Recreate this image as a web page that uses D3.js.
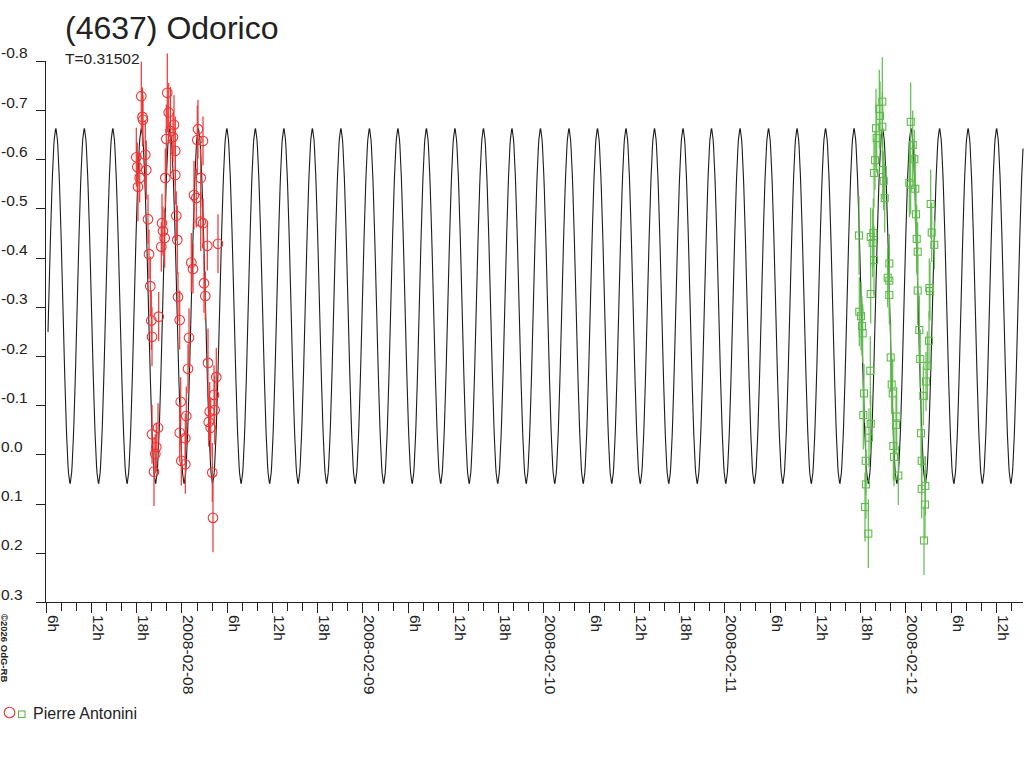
<!DOCTYPE html>
<html><head><meta charset="utf-8">
<script src="https://cdn.jsdelivr.net/npm/d3@7"></script>
<style>
html,body{margin:0;padding:0;background:#fff;}
text{font-family:"Liberation Sans",Arial,sans-serif;fill:#222;}
</style></head>
<body><svg id="c" width="1024" height="768"></svg>
<script>
// ---- data (days are decimal days of February 2008, UTC) ----
const title = "(4637) Odorico";
const periodLabel = "T=0.31502";
const PERIOD = 0.31502;
const EPOCH = 7.3058;          // time of a light-curve maximum
const curveStartDay = 7.2627;
const xDomainDays = [7.24613, 12.6494];
const yTicks = [-0.8,-0.7,-0.6,-0.5,-0.4,-0.3,-0.2,-0.1,0.0,0.1,0.2,0.3];
const yTickLabels = ["-0.8","-0.7","-0.6","-0.5","-0.4","-0.3","-0.2","-0.1","0.0","0.1","0.2","0.3"];
const observer = "Pierre Antonini";
const copyright = "\u00A92026 OdG-RB";

// model light curve profile over one period (phase -> magnitude)
const profilePhase = d3.range(33).map(i => i/32);
const profileMag = [-0.665,-0.637,-0.558,-0.441,-0.302,-0.162,-0.045,0.034,0.062,0.034,-0.045,-0.162,-0.302,-0.441,-0.558,-0.637,
                    -0.665,-0.637,-0.558,-0.441,-0.302,-0.162,-0.045,0.034,0.062,0.034,-0.045,-0.162,-0.302,-0.441,-0.558,-0.637,-0.665];

const redDay = [7.7782,7.7876,7.7848,7.7506,7.7561,7.8003,7.8058,7.7693,7.7599,7.8152,7.8207,7.8279,7.8334,7.8743,7.8373,7.8705,7.8373,7.8610,7.8555,7.8483,
 7.9218,7.9296,7.9588,7.9163,7.9533,7.9660,7.9395,7.9108,7.9660,7.9715,7.8925,7.8981,7.9074,7.8887,7.9771,7.9809,7.9903,8.0417,8.0362,7.9959,8.0268,7.9903,8.0213,7.9992,8.0213,
 8.0914,8.1191,8.0876,8.1064,8.0693,8.0820,8.1191,8.1064,8.1428,8.0544,8.0638,8.1246,8.1318,8.2019,8.1467,8.1925,8.1799,8.1837,8.1561,8.1506,8.1616,8.1704,8.1743];
const redMag = [-0.728,-0.680,-0.686,-0.604,-0.584,-0.609,-0.578,-0.562,-0.544,-0.478,-0.407,-0.342,-0.272,-0.280,-0.239,-0.054,-0.041,-0.015,-0.001,0.035,
 -0.735,-0.695,-0.670,-0.641,-0.645,-0.617,-0.657,-0.562,-0.568,-0.485,-0.470,-0.454,-0.440,-0.422,-0.436,-0.320,-0.273,-0.237,-0.174,-0.107,-0.078,-0.044,-0.033,0.013,0.020,
 -0.661,-0.637,-0.639,-0.562,-0.527,-0.521,-0.470,-0.473,-0.424,-0.390,-0.377,-0.348,-0.322,-0.428,-0.186,-0.157,-0.121,-0.090,-0.087,-0.066,-0.054,0.037,0.129];
const redErr = [0.07,0.05,0.06,0.06,0.05,0.07,0.06,0.05,0.07,0.05,0.05,0.06,0.06,0.05,0.06,0.05,0.06,0.05,0.04,0.07,
 0.08,0.06,0.06,0.07,0.05,0.07,0.09,0.06,0.06,0.05,0.06,0.05,0.06,0.05,0.07,0.05,0.06,0.06,0.05,0.05,0.06,0.06,0.05,0.05,0.06,
 0.06,0.05,0.07,0.06,0.07,0.06,0.05,0.06,0.05,0.06,0.05,0.06,0.05,0.06,0.07,0.06,0.06,0.07,0.06,0.05,0.06,0.06,0.07];

const greenDay = [11.8721,11.8555,11.8594,11.8721,11.8373,11.8412,11.8318,11.8262,11.8743,11.8798,11.8854,
 12.0290,12.0401,12.0489,12.0213,12.0290,12.0544,12.0583,12.1395,
 11.7434,11.8224,11.8080,11.8191,12.1450,12.1594,12.0622,12.0677,11.8262,11.9108,11.9019,11.9108,11.8080,11.9108,12.0677,12.1318,12.1356,
 11.7450,11.7544,11.7599,11.7638,11.8058,11.7710,11.7671,11.8080,11.7986,11.7804,11.7820,11.7765,11.7948,
 11.9185,11.9240,11.9296,11.9517,11.9478,11.9329,11.9367,11.9605,
 12.0765,12.1301,12.0815,12.1207,12.1135,12.0986,12.0859,12.0898,12.0898,12.1097,12.1080,12.1025];
const greenMag = [-0.717,-0.702,-0.688,-0.666,-0.663,-0.643,-0.598,-0.572,-0.578,-0.556,-0.521,
 -0.676,-0.629,-0.600,-0.552,-0.548,-0.540,-0.488,-0.509,
 -0.445,-0.450,-0.442,-0.430,-0.451,-0.426,-0.438,-0.412,-0.395,-0.388,-0.359,-0.353,-0.326,-0.324,-0.333,-0.338,-0.332,
 -0.290,-0.281,-0.261,-0.246,-0.170,-0.124,-0.080,-0.062,-0.034,0.013,0.061,0.107,0.161,
 -0.197,-0.142,-0.124,-0.077,-0.060,-0.017,0.005,0.043,
 -0.253,-0.231,-0.194,-0.180,-0.148,-0.119,-0.043,0.013,0.070,0.064,0.102,0.175];
const greenErr = [0.09,0.08,0.07,0.07,0.08,0.07,0.06,0.07,0.06,0.06,0.07,
 0.08,0.07,0.06,0.07,0.06,0.07,0.06,0.07,
 0.08,0.07,0.06,0.07,0.06,0.05,0.07,0.06,0.07,0.06,0.06,0.07,0.06,0.06,0.07,0.06,0.06,
 0.07,0.07,0.06,0.06,0.07,0.06,0.07,0.06,0.06,0.07,0.07,0.07,0.07,
 0.07,0.06,0.07,0.06,0.06,0.07,0.06,0.06,
 0.07,0.06,0.06,0.07,0.06,0.06,0.07,0.07,0.06,0.06,0.07,0.07];

// ---- drawing ----
const BASE = Date.UTC(2008,1,0);
const toDate = d => new Date(BASE + d*86400000);
const svg = d3.select("#c");
svg.append("rect").attr("width",1024).attr("height",768).attr("fill","#fff");

const x = d3.scaleUtc().domain(xDomainDays.map(toDate)).range([45,1023]);
const y = d3.scaleLinear().domain([-0.8,0.3]).range([60.8,602]);
const profile = d3.scaleLinear().domain(profilePhase).range(profileMag);

const RED = "#ef3434", GREEN = "#5fbc4c", INK = "#222";

// model curve
const curveDays = d3.range(curveStartDay, xDomainDays[1], PERIOD/128).concat([xDomainDays[1]]);
const curvePts = curveDays.map(d => {
  let ph = ((d - EPOCH)/PERIOD) % 1; if (ph < 0) ph += 1;
  return [d, profile(ph)];
});
svg.append("path")
  .attr("d", d3.line().x(p => x(toDate(p[0]))).y(p => y(p[1]))(curvePts))
  .attr("fill","none").attr("stroke","#1c1c1c").attr("stroke-width",1.1);

// axes
const axG = svg.append("g").attr("shape-rendering","crispEdges");
axG.append("line").attr("x1",45.5).attr("x2",45.5).attr("y1",y(-0.8)).attr("y2",602).attr("stroke",INK);
axG.append("line").attr("x1",36).attr("x2",1023).attr("y1",602.5).attr("y2",602.5).attr("stroke",INK);
yTicks.forEach((v,i) => {
  axG.append("line").attr("x1",36).attr("x2",45).attr("y1",Math.round(y(v))+0.5).attr("y2",Math.round(y(v))+0.5).attr("stroke",INK);
  svg.append("text").attr("x",1).attr("y",y(v)-2.5).attr("font-size","15.5px").text(yTickLabels[i]);
});
const ticks = d3.utcHour.every(2).range(x.domain()[0], x.domain()[1]);
const dateFmt = d3.utcFormat("%Y-%m-%d");
ticks.forEach(t => {
  const h = t.getUTCHours();
  const major = h % 6 === 0;
  const xx = Math.round(x(t)) + 0.5;
  axG.append("line").attr("x1",xx).attr("x2",xx).attr("y1",602).attr("y2",major ? 613 : 611).attr("stroke",INK);
  if (major) {
    const lab = h === 0 ? dateFmt(t) : h + "h";
    svg.append("text").attr("transform",`translate(${xx+1.8},615) rotate(90)`)
      .attr("font-size","15.5px").text(lab);
  }
});

// error bars & markers
function series(days, mags, errs, color, shape) {
  const g = svg.append("g");
  days.forEach((d,i) => {
    const xx = x(toDate(d));
    g.append("line").attr("x1",xx).attr("x2",xx)
      .attr("y1",y(mags[i]-errs[i])).attr("y2",y(mags[i]+errs[i]))
      .attr("stroke",color).attr("stroke-width",1.2);
  });
  days.forEach((d,i) => {
    const xx = x(toDate(d)), yy = y(mags[i]);
    if (shape === "circle") {
      g.append("circle").attr("cx",xx).attr("cy",yy).attr("r",4.8)
        .attr("fill","none").attr("stroke",color).attr("stroke-width",1.1);
    } else {
      g.append("rect").attr("x",xx-3.5).attr("y",yy-3.5).attr("width",7).attr("height",7)
        .attr("fill","none").attr("stroke",color).attr("stroke-width",1.1);
    }
  });
}
series(redDay, redMag, redErr, RED, "circle");
series(greenDay, greenMag, greenErr, GREEN, "square");

// titles
svg.append("text").attr("x",65).attr("y",38.5).attr("font-size","32px").text(title);
svg.append("text").attr("x",65).attr("y",64).attr("font-size","15.5px").text(periodLabel);

// legend
svg.append("circle").attr("cx",9.5).attr("cy",712.5).attr("r",5.3).attr("fill","none").attr("stroke",RED).attr("stroke-width",1.1);
svg.append("rect").attr("x",18.5).attr("y",711).attr("width",6.5).attr("height",6.5).attr("fill","none").attr("stroke",GREEN).attr("stroke-width",1.1);
svg.append("text").attr("x",33).attr("y",718.5).attr("font-size","16px").text(observer);

// copyright
svg.append("text").attr("transform","translate(0.5,614) rotate(90)").attr("font-size","9.5px").attr("font-weight","bold").text(copyright);
</script></body></html>
